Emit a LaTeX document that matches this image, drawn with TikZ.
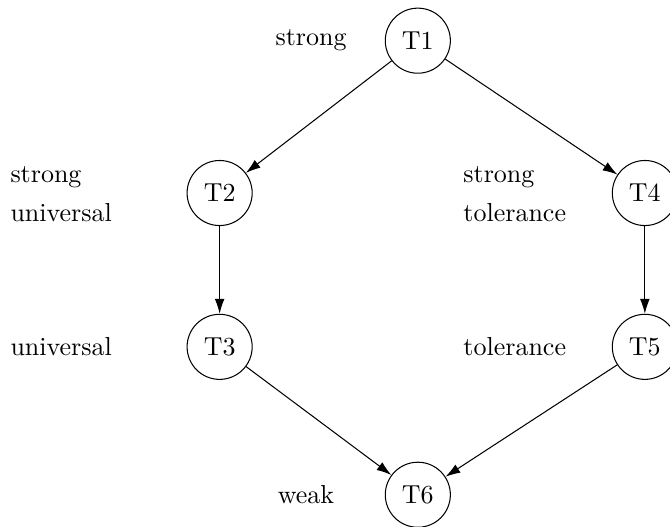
\documentclass[tikz,border=0pt]{standalone}
\usepackage{tikz}
\usetikzlibrary{arrows.meta, positioning}
\begin{document}
\begin{tikzpicture}[
  state/.style={circle, draw, minimum size=0.88cm, inner sep=0pt},
  tag/.style={anchor=west, align=left, inner sep=0pt},
  arrow/.style={-{Latex[length=2mm, width=1.3mm]}}]
  \useasboundingbox (0,0) rectangle (9.06,-7.12);
  \node[state] (t1) at (5.65,-0.55) {T1};
  \node[state] (t2) at (2.97,-2.61) {T2};
  \node[state] (t4) at (8.72,-2.61) {T4};
  \node[state] (t3) at (2.97,-4.69) {T3};
  \node[state] (t5) at (8.72,-4.69) {T5};
  \node[state] (t6) at (5.65,-6.69) {T6};
  \node[tag] (l1) at (3.72,-0.55) {strong};
  \node[tag] (l2) at (0.135,-2.63) {strong\\[3pt]universal};
  \node[tag] (l4) at (6.26,-2.63) {strong\\[3pt]tolerance};
  \node[tag] (l3) at (0.135,-4.69) {universal};
  \node[tag] (l5) at (6.26,-4.69) {tolerance};
  \node[tag] (l6) at (3.75,-6.69) {weak};
  \draw[arrow] (t1) -- (t2);
  \draw[arrow] (t1) -- (t4);
  \draw[arrow] (t2) -- (t3);
  \draw[arrow] (t4) -- (t5);
  \draw[arrow] (t3) -- (t6);
  \draw[arrow] (t5) -- (t6);
\end{tikzpicture}
\end{document}
